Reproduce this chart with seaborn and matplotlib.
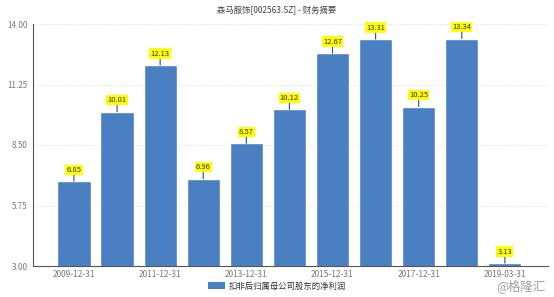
import matplotlib
matplotlib.use("Agg")
import matplotlib.pyplot as plt
import seaborn as sns
import pandas as pd
from matplotlib.patches import Patch

categories = ["2009-12-31", "2010-12-31", "2011-12-31", "2012-12-31", "2013-12-31",
              "2014-12-31", "2015-12-31", "2016-12-31", "2017-12-31", "2018-12-31",
              "2019-03-31"]
values = [6.85, 10.01, 12.13, 6.96, 8.57, 10.12, 12.67, 13.31, 10.25, 13.34, 3.13]
y_ticks = [3.00, 5.75, 8.50, 11.25, 14.00]
title = "森马服饰[002563.SZ] - 财务摘要"
series_name = "扣非后归属母公司股东的净利润"
watermark = "@格隆汇"

sns.set_theme(style="white")
plt.rcParams['font.family'] = ['Noto Sans CJK SC', 'DejaVu Sans']

bar_color = "#4a7fc2"
df = pd.DataFrame({"date": categories, "value": values})

fig = plt.figure(figsize=(5.54, 2.97), dpi=100)
ax = fig.add_axes([33/554, 1 - 266/297, (548-33)/554, (266-24)/297])

sns.barplot(data=df, x="date", y="value", color=bar_color, width=0.77,
            saturation=1, ax=ax, zorder=3)

ax.set_ylim(3, 14)
ax.set_xlim(-0.95, 11.0)
ax.set_yticks(y_ticks)
ax.set_yticklabels([f"{t:.2f}" for t in y_ticks], fontsize=5.8, color="#777777")
ax.set_xticks(range(0, len(categories), 2))
ax.set_xticklabels([categories[i] for i in range(0, len(categories), 2)],
                   fontsize=6, color="#777777")
ax.set_xlabel("")
ax.set_ylabel("")
ax.tick_params(axis="both", length=2, width=0.6, color="#555555", pad=2)
ax.tick_params(axis="x", length=0, pad=3)

for t in y_ticks[1:]:
    ax.axhline(t, color="#dddddd", lw=0.6, ls=(0, (2, 2)), zorder=1)

for s in ["top", "right"]:
    ax.spines[s].set_visible(False)
ax.spines["left"].set_color("#555555")
ax.spines["left"].set_linewidth(0.8)
ax.spines["bottom"].set_color("#555555")
ax.spines["bottom"].set_linewidth(0.8)

for i, v in enumerate(values):
    ax.annotate(f"{v:.2f}", xy=(i, v), xytext=(0, 5.5), textcoords="offset points",
                ha="center", va="bottom", fontsize=5.5, color="#333333",
                bbox=dict(boxstyle="square,pad=0.15", fc="#ffff00", ec="none"),
                arrowprops=dict(arrowstyle="-", color="#2a4d85", lw=0.8,
                                shrinkA=0, shrinkB=0),
                zorder=5)

fig.text(0.5, 1 - 10/297, title, ha="center", va="center", fontsize=6, color="#444444")

handle = Patch(facecolor=bar_color, edgecolor="none")
fig.legend([handle], [series_name], loc="center", bbox_to_anchor=(0.5, 1 - 286/297),
           frameon=False, fontsize=6, handlelength=2.0, handleheight=0.8,
           handletextpad=0.5, labelcolor="#333333")

fig.text(0.985, 1 - 286/297, watermark, fontsize=9, color="#888888",
         ha="right", va="center", alpha=0.8)

fig.savefig("out.png", dpi=100)
